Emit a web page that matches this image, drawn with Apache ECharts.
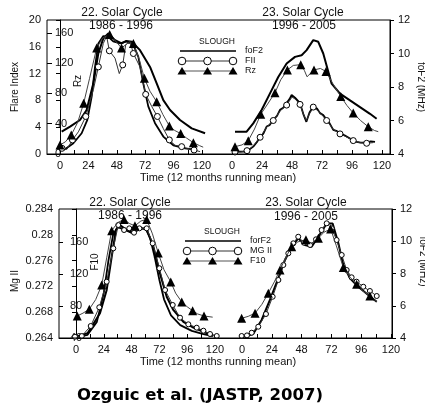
<!DOCTYPE html>
<html>
<head>
<meta charset="utf-8">
<script src="https://cdn.jsdelivr.net/npm/echarts@6/dist/echarts.min.js"></script>
<style>
  html, body { margin: 0; padding: 0; background: #fff; }
  #chart { width: 425px; height: 409px; }
</style>
</head>
<body>
<div id="chart"></div>
<script>
// ---- Data: [month of cycle, value] ----
// Upper panel, cycle 22 (1986-1996)
const top22Fof2 = [[1.4,5.33],[8.5,5.63],[16.9,6.03],[22.5,6.63],[28.2,8.22],[32.4,10.01],[36.6,10.9],[40.8,11.2],[46.5,10.8],[52.1,10.6],[56,10.75],[60.6,10.7],[67.6,10.2],[76.1,9.2],[81.7,8.22],[87.3,7.22],[93,6.63],[101.4,6.03],[111.3,5.53],[122.6,5.24]];
const top22FiiMean = [[4.2,0.7],[11.3,1.6],[18.3,3.1],[23.1,5.1],[26.8,8.6],[29.6,13],[32.4,16.5],[36.6,17.6],[40.8,17.5],[45,16.8],[50.7,16.5],[56.4,16.8],[62,16.3],[66.2,14.5],[70.4,10.5],[74.6,7.1],[80.3,4.6],[87.3,2.6],[95.8,1.3],[105.7,0.85],[115.6,0.6]];
const top22Fii = [[1.7,0.85],[5.9,0.7],[10.5,2.1],[15.5,3.3],[21.8,5.6],[28.2,9.6],[32.4,13],[36.6,16.5],[39.4,17.6],[41.7,15.4],[46.5,14.3],[50.1,12.0],[53,13.3],[55.5,16.3],[59.2,16.8],[62,15],[67.6,13],[72.4,8.9],[77.5,7.1],[82.3,5.6],[87.3,3.8],[92.4,2.1],[97.2,1.3],[102.8,1.1],[108,0.8],[113.3,0.6],[118.4,0.35]];
const top22FiiMarks = [1.7,10.5,21.8,32.4,41.7,53,62,72.4,82.3,92.4,102.8,113.3];
const top22Rz = [[0,12],[4.5,16],[9.5,25],[15,42],[20,67],[25,100],[31,140],[36,153],[42,158],[47,149],[52,140],[57,146],[62,146],[67,125],[71.3,100],[76,83],[81.7,69],[87,52],[92.4,37],[97,31],[102,27],[107,21],[112.7,15],[118,11],[121,9]];
const top22RzMarks = [0,9.5,20,31,42,52,62,71.3,81.7,92.4,102,112.7];

// Upper panel, cycle 23 (1996-2005)
const top23Fof2 = [[2.4,5.33],[11.7,5.33],[17,5.83],[23.7,6.63],[30.4,7.62],[37,8.6],[43.7,9.4],[50.4,9.8],[55.7,9.9],[59.7,10.2],[65,10.8],[69,10.7],[73,10.0],[79.7,8.2],[86.4,7.6],[94.4,7.2],[102.4,6.8],[110.4,6.4],[115.7,6.1]];
const top23FiiMean = [[2.4,0.35],[11.7,0.35],[17,1.1],[20,1.8],[22.4,2.6],[25,3.0],[27.7,4.1],[30,4.3],[33,5.1],[36,5.7],[38.4,6.6],[41,6.9],[43.7,7.6],[46,8.2],[47.7,8.8],[50.4,8.4],[54.4,7.6],[57,6.0],[59.5,4.8],[62,6.2],[65,7.1],[68,6.8],[70.4,6.1],[73,5.8],[75.7,5.1],[78,4.6],[81,3.6],[84,3.4],[86.4,3.1],[90,2.8],[94.4,2.3],[97,2.0],[99.7,1.8],[103,1.7],[107.7,1.7],[111,1.9],[114.4,1.8]];
const top23Fii = [[2.4,0.3],[7,0.3],[12,0.5],[17,1.2],[22.5,2.5],[27.7,4.0],[33,5.0],[38.4,6.4],[43.7,7.3],[48,8.5],[50.5,8.2],[54.4,7.4],[57,6.0],[59.5,5.0],[62,6.0],[65,7.0],[70.4,6.2],[75.7,5.0],[81,3.7],[86.4,3.0],[91,2.6],[97,2.0],[102,1.7],[107.7,1.6],[113,1.7]];
const top23FiiMarks = [2.4,12,22.5,33,43.7,54.4,65,75.7,86.4,97,107.7];
const top23Rz = [[1,7],[2.4,9.7],[8,12],[13,17.6],[18,33],[23,52.5],[28.5,66],[34.4,81],[39,98],[44.3,111],[49,117],[55,118],[58,110],[60,102],[65.6,111],[70.7,113],[75.2,109],[81,92],[87,76],[92,64],[97,54],[103,44],[109,36],[114,31],[117,29.5]];
const top23RzMarks = [2.4,13,23,34.4,44.3,55,65.6,75.2,87,97,109];

// Lower panel, cycle 22
const bot22Fof2 = [[0,4.08],[10,4.3],[20.7,5.53],[26.5,6.98],[30.8,9.04],[34.5,10.7],[38,11.0],[43.8,10.7],[49.5,10.5],[55.2,10.8],[61,10.74],[66.8,9.66],[72.5,8.0],[78.3,6.56],[84,5.74],[92.7,5.0],[101.3,4.64],[110,4.39],[118.6,4.14]];
const bot22MgMean = [[0,0.2641],[10,0.2645],[18,0.2665],[24,0.2710],[28,0.2760],[32,0.2800],[36,0.2812],[42,0.2808],[48,0.2803],[54,0.2810],[60,0.2810],[64,0.2795],[68,0.2765],[72,0.2730],[76,0.2700],[82,0.2675],[90,0.2660],[100,0.2651],[110,0.2646],[118,0.2643]];
const bot22Mg = [[-0.9,0.2642],[5,0.2643],[12.7,0.26586],[20.1,0.26876],[26.5,0.27273],[32.2,0.2779],[36.5,0.28152],[41.5,0.28074],[46,0.281],[50.1,0.28033],[54.7,0.281],[61,0.281],[66.2,0.27868],[72,0.27481],[76.9,0.27144],[83.5,0.26912],[89.8,0.26715],[97,0.26612],[104.2,0.2656],[110,0.26513],[115.7,0.26462],[121.5,0.26431]];
const bot22F10 = [[1.1,67.5],[6,71],[11.5,76],[17,88],[22.2,106],[26.5,140],[30.8,174],[36,184],[41.5,188],[46,183],[50.9,180],[56,186],[61,188],[66,170],[71,146],[76,125],[81.8,110],[86,96],[91.3,85],[96,79],[100.7,74],[105,70],[110.5,67.5],[118,66]];
const bot22F10Marks = [1.1,11.5,22.2,30.8,41.5,50.9,61,71,81.8,91.3,100.7,110.5];

// Lower panel, cycle 23
const bot23Fof2 = [[1,4.08],[9,4.25],[15.8,5.12],[22.5,6.36],[29.2,7.7],[34.6,8.84],[40,9.66],[45.3,10.18],[50.7,9.77],[56.1,9.66],[61.5,10.28],[68.2,11.1],[73,11.1],[77.6,9.87],[81.6,8.53],[87,7.7],[93.6,7.18],[101.7,6.67],[108.5,6.25]];
const bot23Mg = [[-0.3,0.26431],[4,0.2644],[7.8,0.26482],[13.1,0.26575],[19.3,0.26772],[24.7,0.2704],[29.3,0.27299],[33.3,0.27532],[37.3,0.27713],[41.3,0.27868],[45.3,0.2797],[49.9,0.27877],[54.8,0.27842],[59.6,0.2793],[64.1,0.28074],[68.2,0.28178],[72.2,0.281],[76.2,0.27919],[80.3,0.27687],[84.3,0.27454],[88.3,0.27341],[92.3,0.27273],[97.7,0.27195],[103,0.27129],[108.5,0.27051]];
const bot23F10 = [[-0.3,64.6],[5,67],[10.5,71],[16,82],[21.2,96],[26,110],[30.6,125],[35,140],[40,154],[45,160],[51.5,162.5],[56,158],[61.5,164.6],[66,172],[71.4,176],[76,155],[81.6,128],[87,116],[92.3,107],[97,99],[103,92.5],[108.5,85]];
const bot23F10Marks = [-0.3,10.5,21.2,30.6,40,51.5,61.5,71.4,81.6,92.3,103];

// Axis ticks and labels
const monthTicks = [0,12,24,36,48,60,72,84,96,108,120];
const monthLabels = [0,24,48,72,96,120];
const rzLabels = [0,40,80,120,160];
const f10Labels = [40,80,120,160];

// ---- Layout (pixels) ----
const FONT = '"Liberation Sans", Arial, sans-serif';
const panels = [
  { top: 20, height: 134, left: 47, split: 217, right: 390, a0: 60, a120: 202, b0: 232, b120: 382 },
  { top: 209, height: 129, left: 59, split: 228, right: 392, a0: 76, a120: 215, b0: 242, b120: 391 }
];

function xRange(left, right, x0, x120) {
  const k = (x120 - x0) / 120;
  return { min: (left - x0) / k, max: (right - x0) / k };
}

const grids = [], xAxes = [];
panels.forEach(p => {
  const ra = xRange(p.left, p.split, p.a0, p.a120);
  const rb = xRange(p.split, p.right, p.b0, p.b120);
  grids.push({ left: p.left, top: p.top, width: p.split - p.left, height: p.height, outerBoundsMode: 'none', containLabel: false });
  grids.push({ left: p.split, top: p.top, width: p.right - p.split, height: p.height, outerBoundsMode: 'none', containLabel: false });
  [ra, rb].forEach((r, i) => {
    xAxes.push({
      type: 'value', gridIndex: grids.length - 2 + i, min: r.min, max: r.max,
      axisLine: { show: true, onZero: false, lineStyle: { color: '#000', width: 1 } },
      axisTick: { show: true, inside: true, length: 4, customValues: monthTicks, lineStyle: { color: '#000' } },
      axisLabel: { customValues: monthLabels, margin: 6, color: '#111', fontSize: 11, fontFamily: FONT },
      splitLine: { show: false }
    });
  });
});

const axisText = { color: '#111', fontSize: 11, fontFamily: FONT };
const hidden = (grid, min, max) => ({ type: 'value', gridIndex: grid, min, max, show: false });

const yAxes = [
  // upper panel, left part
  { type: 'value', gridIndex: 0, min: 0, max: 20, interval: 4, position: 'left',
    name: 'Flare Index', nameLocation: 'middle', nameGap: 27,
    nameTextStyle: { color: '#111', fontSize: 10, fontFamily: FONT },
    axisLine: { show: true, lineStyle: { color: '#000' } },
    axisTick: { show: true, length: 4, lineStyle: { color: '#000' } },
    axisLabel: Object.assign({ margin: 6 }, axisText), splitLine: { show: false } },
  { type: 'value', gridIndex: 0, min: 0, max: 177, position: 'left',
    axisLine: { show: false },
    axisTick: { show: true, inside: true, length: 5, customValues: rzLabels, lineStyle: { color: '#000' } },
    axisLabel: Object.assign({ inside: true, margin: 8, customValues: rzLabels }, axisText), splitLine: { show: false } },
  hidden(0, 4, 12),
  // upper panel, right part
  hidden(1, 0, 20),
  hidden(1, 0, 177),
  { type: 'value', gridIndex: 1, min: 4, max: 12, interval: 2, position: 'right',
    name: 'foF2 (MHz)', nameLocation: 'middle', nameGap: 26, nameRotate: -90,
    nameTextStyle: { color: '#111', fontSize: 10, fontFamily: FONT },
    axisLine: { show: true, lineStyle: { color: '#000' } },
    axisTick: { show: true, length: 4, lineStyle: { color: '#000' } },
    axisLabel: Object.assign({ margin: 8 }, axisText), splitLine: { show: false } },
  // lower panel, left part
  { type: 'value', gridIndex: 2, min: 0.264, max: 0.284, interval: 0.004, position: 'left',
    axisLine: { show: true, lineStyle: { color: '#000' } },
    axisTick: { show: true, length: 4, lineStyle: { color: '#000' } },
    axisLabel: Object.assign({ margin: 6 }, axisText), splitLine: { show: false } },
  { type: 'value', gridIndex: 2, min: 40, max: 201, position: 'left',
    axisLine: { show: false },
    axisTick: { show: true, inside: true, length: 4, customValues: f10Labels, lineStyle: { color: '#000' } },
    axisLabel: Object.assign({ inside: true, margin: 11, customValues: f10Labels }, axisText), splitLine: { show: false } },
  hidden(2, 4, 12),
  // lower panel, right part
  hidden(3, 0.264, 0.284),
  hidden(3, 40, 201),
  { type: 'value', gridIndex: 3, min: 4, max: 12, interval: 2, position: 'right',
    name: 'foF2 (MHz)', nameLocation: 'middle', nameGap: 26, nameRotate: -90,
    nameTextStyle: { color: '#111', fontSize: 10, fontFamily: FONT, padding: [0, 24, 0, 0] },
    axisLine: { show: true, lineStyle: { color: '#000' } },
    axisTick: { show: true, length: 4, lineStyle: { color: '#000' } },
    axisLabel: Object.assign({ margin: 8 }, axisText), splitLine: { show: false } }
];

// ---- Series ----
function curve(name, data, xi, yi, style) {
  const marks = style.marks;
  return {
    type: 'line', name, xAxisIndex: xi, yAxisIndex: yi,
    data: data.map(([t, v]) => ({
      value: [t, v],
      symbol: (marks === 'all' || (marks && marks.includes(t))) ? style.symbol : 'none'
    })),
    symbol: style.symbol || 'none', symbolSize: style.size || 6, showSymbol: true, showAllSymbol: true,
    lineStyle: { color: style.color || '#000', width: style.width || 1 },
    itemStyle: style.symbol === 'circle'
      ? { color: '#fff', borderColor: '#000', borderWidth: 1 }
      : { color: '#000', borderColor: '#000', borderWidth: 0 },
    clip: true, silent: true, animation: false, z: style.z || 2
  };
}
const thick = { width: 2, color: '#000', z: 3 };
const circ = (marks, size) => ({ width: 1, color: '#333', symbol: 'circle', size, marks, z: 4 });
const tri = (marks, size) => ({ width: 1, color: '#444', symbol: 'triangle', size, marks, z: 5 });

const series = [
  curve('foF2', top22Fof2, 0, 2, thick),
  curve('FII mean', top22FiiMean, 0, 0, { width: 1.8, color: '#000', z: 3 }),
  curve('FII', top22Fii, 0, 0, circ(top22FiiMarks, 6)),
  curve('Rz', top22Rz, 0, 1, tri(top22RzMarks, 9)),
  curve('foF2', top23Fof2, 1, 5, thick),
  curve('FII mean', top23FiiMean, 1, 3, { width: 1.8, color: '#000', z: 3 }),
  curve('FII', top23Fii, 1, 3, circ(top23FiiMarks, 6)),
  curve('Rz', top23Rz, 1, 4, tri(top23RzMarks, 9)),
  curve('foF2', bot22Fof2, 2, 8, thick),
  curve('Mg II mean', bot22MgMean, 2, 6, { width: 1.8, color: '#000', z: 3 }),
  curve('Mg II', bot22Mg, 2, 6, circ('all', 5)),
  curve('F10', bot22F10, 2, 7, tri(bot22F10Marks, 9)),
  curve('foF2', bot23Fof2, 3, 11, thick),
  curve('Mg II', bot23Mg, 3, 9, circ('all', 5)),
  curve('F10', bot23F10, 3, 10, tri(bot23F10Marks, 9))
];

// ---- Frames, titles, legends, caption ----
const txt = (text, x, y, size, extra, rotation) => ({
  type: 'text', x, y, rotation: rotation || 0, silent: true,
  style: Object.assign({ text, fill: '#111', font: size + 'px ' + FONT, align: 'center', verticalAlign: 'middle' }, extra || {})
});
const frame = p => ({ type: 'rect', silent: true, shape: { x: p.left, y: p.top, width: p.right - p.left, height: p.height },
  style: { fill: 'none', stroke: '#000', lineWidth: 1 }, z: 10 });
const tri3 = (cx, cy) => ({ type: 'polygon', silent: true, shape: { points: [[cx, cy - 4], [cx - 4.5, cy + 3.5], [cx + 4.5, cy + 3.5]] }, style: { fill: '#000' }, z: 20 });
const dot = (cx, cy) => ({ type: 'circle', silent: true, shape: { cx, cy, r: 3.8 }, style: { fill: '#fff', stroke: '#000', lineWidth: 1 }, z: 20 });
const seg = (x1, y1, x2, y2, w, c) => ({ type: 'line', silent: true, shape: { x1, y1, x2, y2 }, style: { stroke: c || '#000', lineWidth: w }, z: 19 });

function legend(lx, ly, names) {
  // lx: x of first symbol, ly: y of solid line row
  const xs = [lx, lx + 25.5, lx + 51];
  const els = [
    txt('SLOUGH', lx + 35, ly - 9, 8.5),
    seg(lx - 2, ly, lx + 54, ly, 1.5),
    seg(lx, ly + 10, lx + 51, ly + 10, 1, '#333'),
    seg(lx, ly + 20, lx + 51, ly + 20, 1, '#555')
  ];
  xs.forEach(x => { els.push(dot(x, ly + 10)); els.push(tri3(x, ly + 20)); });
  names.forEach((n, i) => els.push(txt(n, lx + 63, ly + i * 10, 9, { align: 'left' })));
  return els;
}

const graphics = [
  frame(panels[0]), frame(panels[1]),
  txt('22. Solar Cycle', 122, 13, 12), txt('1986 - 1996', 121, 26, 12),
  txt('23. Solar Cycle', 303, 13, 12), txt('1996 - 2005', 304, 26, 12),
  txt('22. Solar Cycle', 130, 203, 12), txt('1986 - 1996', 130, 216, 12),
  txt('23. Solar Cycle', 306, 203, 12), txt('1996 - 2005', 306, 217, 12),
  txt('Rz', 78, 81, 10, null, Math.PI / 2),
  txt('F10', 95, 262, 10, null, Math.PI / 2),
  txt('Mg II', 15, 281, 10, null, Math.PI / 2),
  txt('Time (12 months running mean)', 218, 178, 11),
  txt('Time (12 months running mean)', 218, 362, 11),
  txt('Ozguic et al. (JASTP, 2007)', 200, 396, 16.5, { font: 'bold 16.5px "DejaVu Sans", sans-serif', fill: '#000' })
].concat(legend(182, 51, ['foF2', 'FII', 'Rz']), legend(187, 241, ['forF2', 'MG II', 'F10']));

const chart = echarts.init(document.getElementById('chart'), null, { renderer: 'canvas' });
chart.setOption({
  backgroundColor: '#fff',
  animation: false,
  grid: grids,
  xAxis: xAxes,
  yAxis: yAxes,
  series,
  graphic: { elements: graphics }
});
</script>
</body>
</html>
